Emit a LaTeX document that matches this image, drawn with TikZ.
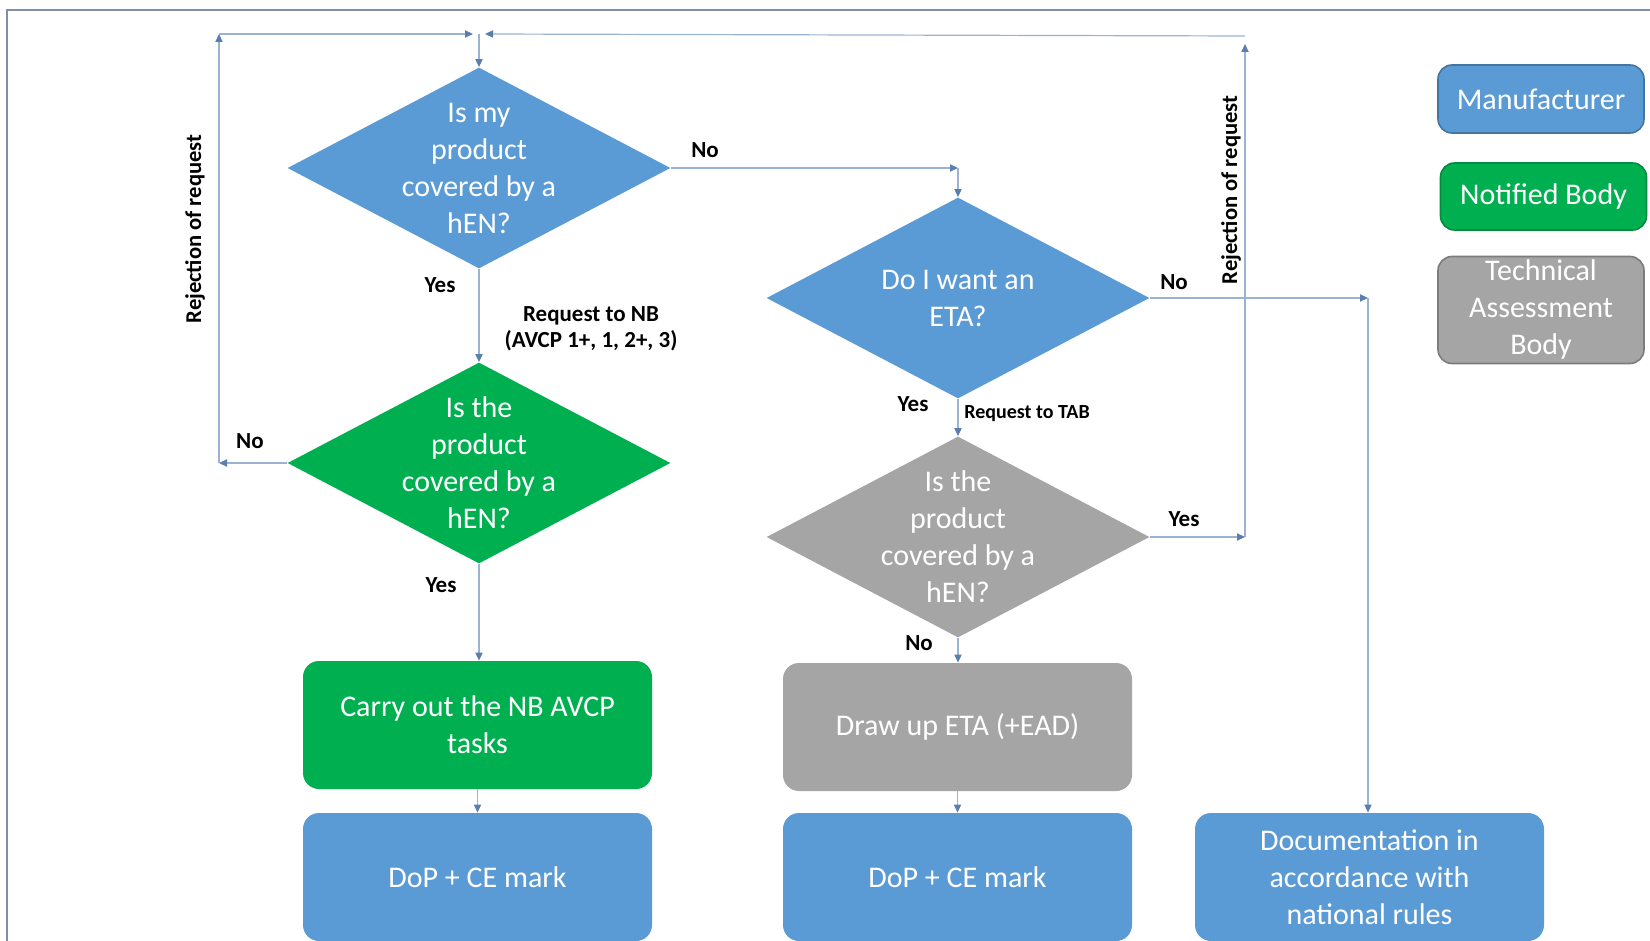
\documentclass[tikz,border=0pt]{standalone}
\usepackage{fontspec}
\setmainfont{Carlito}
\usetikzlibrary{shapes.geometric,arrows.meta}
\definecolor{mblue}{HTML}{5B9BD5}
\definecolor{mgreen}{HTML}{00B050}
\definecolor{mgray}{HTML}{A5A5A5}
\definecolor{lineblue}{HTML}{9AB3D3}
\definecolor{tipblue}{HTML}{5A7FAE}
\definecolor{framecol}{HTML}{7F8FA6}
\begin{document}
\begin{tikzpicture}[x=0.5pt,y=-0.5pt,
  dec/.style={diamond, draw=none, inner sep=0pt, minimum width=191.5pt, minimum height=100.5pt},
  txt/.style={text=white, font=\fontsize{15}{18.5}\selectfont, align=center},
  box/.style={rectangle, rounded corners=8pt, inner sep=0pt, minimum width=174.5pt, minimum height=64pt, text=white, font=\fontsize{15}{18.5}\selectfont, align=center},
  leg/.style={rectangle, rounded corners=7pt, inner sep=0pt, minimum width=103pt, text=white, font=\fontsize{15}{18.5}\selectfont, align=center, line width=0.8pt},
  lbl/.style={font=\bfseries\fontsize{11.5}{13}\selectfont, text=black, inner sep=1pt},
  conn/.style={draw=lineblue, line width=0.6pt, -{Triangle[length=4pt,width=3.6pt,color=tipblue]}}]
\useasboundingbox (0,0) rectangle (1650,941);
\fill[white] (0,0) rectangle (1650,941);
\draw[framecol, line width=0.8pt] (1650,10) -- (7,10) -- (7,941);

% decisions
\node[dec, fill=mblue, label={[txt]center:{Is my\\product\\covered by a\\hEN?}}] (d1) at (479,168) {};
\node[dec, fill=mgreen, label={[txt]center:{Is the\\product\\covered by a\\hEN?}}] (d2) at (479,463) {};
\node[dec, fill=mblue, label={[txt]center:{Do I want an\\ETA?}}] (d3) at (958,298) {};
\node[dec, fill=mgray, label={[txt]center:{Is the\\product\\covered by a\\hEN?}}] (d4) at (958,537) {};

% boxes
\node[box, fill=mgreen] (b1) at (477.5,725) {Carry out the NB AVCP\\tasks};
\node[box, fill=mblue] (b2) at (477.5,877) {DoP + CE mark};
\node[box, fill=mgray] (b3) at (957.5,727) {Draw up ETA (+EAD)};
\node[box, fill=mblue] (b4) at (957.5,877) {DoP + CE mark};
\node[box, fill=mblue] (b5) at (1369.5,877) {Documentation in\\accordance with\\national rules};

% legend
\node[leg, fill=mblue, draw=mblue!75!black, minimum height=34pt] (l1) at (1541,99) {Manufacturer};
\node[leg, fill=mgreen, draw=mgreen!80!black, minimum height=33.5pt] (l2) at (1543.5,196.5) {Notified Body};
\node[leg, fill=mgray, draw=mgray!75!black, minimum height=53.5pt] (l3) at (1541,310) {Technical\\Assessment\\Body};

% routing points
\coordinate (tl) at (219,34);
\coordinate (tj) at (479,34);
\coordinate (tjl) at (473,34);
\coordinate (tjr) at (485,34);
\coordinate (tr) at (1245,36);
\coordinate (rtop) at (1245,44);
\coordinate (dl) at (219,463);
\coordinate (dr) at (1245,537);
\coordinate (c1) at (958,168);
\coordinate (c3) at (1368,298);

% connectors
\draw[conn] (d2.west) -- (dl);
\draw[conn] (dl) -- (tl);
\draw[conn] (tl) -- (tjl);
\draw[conn] (tr) -- (tjr);
\draw[conn] (dr) -- (rtop);
\draw[conn] (tj) -- (d1.north);
\draw[conn] (d1.east) -- (c1);
\draw[conn] (c1) -- (d3.north);
\draw[conn] (d1.south) -- (d2.north);
\draw[conn] (d2.south) -- (d2.south |- b1.north);
\draw[conn] (b1.south) -- (b2.north);
\draw[conn] (d3.south) -- (d4.north);
\draw[conn] (d3.east) -- (c3);
\draw[conn] (c3) -- (c3 |- b5.north);
\draw[conn] (d4.east) -- (dr);
\draw[conn] (d4.south) -- (d4.south |- b3.north);
\draw[conn] (b3.south) -- (b4.north);

% labels
\node[lbl] (n1) at (705,150) {No};
\node[lbl] (y1) at (440,285) {Yes};
\node[lbl, align=center] (r1) at (591,329) {Request to NB\\(AVCP 1+, 1, 2+, 3)};
\node[lbl] (n2) at (250,441) {No};
\node[lbl] (y2) at (441,585) {Yes};
\node[lbl] (n3) at (1174,282) {No};
\node[lbl] (y3) at (913,404) {Yes};
\node[lbl, font=\bfseries\fontsize{10}{12}\selectfont] (r2) at (1027,414) {Request to TAB};
\node[lbl] (y4) at (1184,519) {Yes};
\node[lbl] (n4) at (919,643) {No};
\node[lbl, rotate=90, font=\bfseries\fontsize{11.3}{13}\selectfont] (rj1) at (195,229) {Rejection of request};
\node[lbl, rotate=90, font=\bfseries\fontsize{11.3}{13}\selectfont] (rj2) at (1231,190) {Rejection of request};
\end{tikzpicture}
\end{document}
